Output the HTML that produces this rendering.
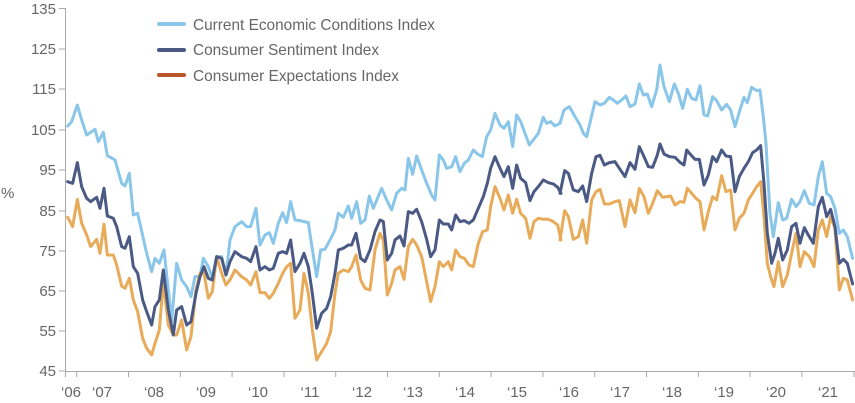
<!DOCTYPE html>
<html><head><meta charset="utf-8"><style>
html,body{margin:0;padding:0;background:#fff;}
svg{display:block;font-family:"Liberation Sans Narrow","Liberation Sans",sans-serif;}
</style></head><body>
<svg width="855" height="403" viewBox="0 0 855 403" xmlns="http://www.w3.org/2000/svg">
<g stroke="#aaa" stroke-width="1" fill="none">
<line x1="65.5" y1="8" x2="65.5" y2="371"/>
<line x1="65" y1="371.5" x2="855" y2="371.5"/>
<path d="M59 8.5H65M59 49H65M59 89H65M59 130H65M59 170H65M59 211H65M59 251H65M59 291H65M59 331H65M59 371H65"/>
<path d="M65.5 371V377M76.7 371V377M128.5 371V377M180.3 371V377M232.1 371V377M283.9 371V377M335.7 371V377M387.5 371V377M439.3 371V377M491.1 371V377M542.9 371V377M594.7 371V377M646.5 371V377M698.3 371V377M750.1 371V377M801.9 371V377M854 371V377"/>
</g>
<g fill="#666" font-size="15" text-anchor="end">
<text x="56" y="14">135</text><text x="56" y="54">125</text><text x="56" y="94">115</text><text x="56" y="135">105</text><text x="56" y="175">95</text><text x="56" y="216">85</text><text x="56" y="256">75</text><text x="56" y="296">65</text><text x="56" y="336">55</text><text x="56" y="376">45</text>
</g>
<text x="1" y="198" fill="#666" font-size="15">%</text>
<g fill="#666" font-size="15" text-anchor="middle">
<text x="71" y="397">‘06</text><text x="102" y="397">‘07</text><text x="154" y="397">‘08</text><text x="206" y="397">‘09</text><text x="258" y="397">‘10</text><text x="310" y="397">‘11</text><text x="362" y="397">‘12</text><text x="413" y="397">‘13</text><text x="465" y="397">‘14</text><text x="517" y="397">‘15</text><text x="569" y="397">‘16</text><text x="620" y="397">‘17</text><text x="672" y="397">‘18</text><text x="724" y="397">‘19</text><text x="776" y="397">‘20</text><text x="828" y="397">‘21</text>
</g>
<g stroke-width="4" stroke-linecap="round">
<line x1="159" y1="24" x2="184" y2="24" stroke="#8ac6ea"/>
<line x1="159" y1="50" x2="184" y2="50" stroke="#4a5a85"/>
<line x1="159" y1="75" x2="184" y2="75" stroke="#b8562a"/>
</g>
<g fill="#666" font-size="16">
<text x="193" y="30" textLength="242" lengthAdjust="spacingAndGlyphs">Current Economic Conditions Index</text>
<text x="193" y="55" textLength="186" lengthAdjust="spacingAndGlyphs">Consumer Sentiment Index</text>
<text x="193" y="81" textLength="206" lengthAdjust="spacingAndGlyphs">Consumer Expectations Index</text>
</g>
<g fill="none" stroke-width="9" stroke-linejoin="round" stroke-linecap="round">
<g stroke="#8ac6ea">
<polyline transform="scale(0.3333)" points="203,378 215,365 232,315 245,360 260,405 285,388 295,425 310,397 322,467 345,480 365,550 375,558 388,520 400,645 413,640 440,760 455,815 465,775 478,790 492,750 505,870 515,965 530,790 545,840 560,860 573,890 585,830 600,830 610,775 625,800 637,835 650,770 665,770 678,825 690,720 705,680 725,665 740,680 752,680 768,625 780,735 795,705 808,698 820,730 835,670 848,638 860,668 872,605 885,660 900,662"/>
<polyline transform="translate(280,0) scale(0.3333)" points="60,662 85,668 95,735 110,830 122,750 135,748 150,720 165,690 175,640 190,652 205,618 215,655 230,605 242,670 255,660 268,588 280,625 305,565 320,600 335,630 350,580 365,565 375,570 385,475 398,523 410,468 425,510 440,550 455,585 465,600 478,465 490,480 500,505 515,500 527,470 540,515 553,490 565,480 580,450 592,462 607,470 620,410 632,390 645,340 660,375 672,385 685,365 698,440 710,345 722,365 737,405 748,435 760,420 775,400 790,352 800,370 812,365 825,378 840,370"/>
<polyline transform="translate(560,0) scale(0.3333)" points="0,370 12,330 28,320 45,350 60,375 70,400 80,410 92,360 105,305 120,315 133,310 148,292 160,300 172,310 185,300 198,288 210,320 225,312 238,252 250,285 262,282 275,320 290,270 300,195 312,260 328,305 343,252 355,280 368,325 382,268 395,295 408,300 420,257 432,345 443,348 458,290 470,302 485,330 500,313 512,330 525,380 540,330 552,292 562,308 575,262 590,272 600,270 610,350 618,430 630,640 640,710 655,608 668,660 680,655 695,598 708,620 720,605 733,572 748,610 762,615 775,530 787,485 800,580 812,590 825,625 838,700 850,690 862,710 878,775"/>
</g>
<g stroke="#e8ab5a">
<polyline transform="scale(0.3333)" points="203,652 218,680 232,598 245,670 260,705 272,740 290,718 300,760 312,672 322,765 340,765 350,795 365,858 375,865 388,835 400,900 413,935 428,1015 440,1045 455,1065 465,1030 478,990 490,845 505,975 520,1005 530,1005 545,960 560,1050 573,1010 588,870 600,820 612,820 625,895 637,875 650,770 665,820 678,855 690,840 705,810 725,830 740,840 752,855 768,815 780,878 795,878 808,895 820,880 835,850 848,820 860,800 872,790 885,955 900,930"/>
<polyline transform="translate(280,0) scale(0.3333)" points="60,930 72,820 85,880 97,990 110,1080 125,1055 140,1030 152,995 165,880 175,820 190,810 205,815 215,800 228,765 242,840 255,865 270,870 285,750 300,700 310,720 322,885 335,850 345,810 360,800 372,838 385,740 398,718 410,735 425,770 440,845 452,905 465,860 478,785 490,800 505,785 515,810 527,750 540,770 553,775 567,795 580,800 595,730 608,695 622,690 632,620 645,560 660,595 672,630 685,585 698,640 710,598 722,640 737,655 750,715 762,665 775,655 790,658 805,658 820,665 833,675 843,720"/>
<polyline transform="translate(560,0) scale(0.3333)" points="0,720 14,632 25,650 40,718 55,710 68,660 80,730 95,600 108,575 120,568 133,612 148,612 165,605 178,602 195,680 210,600 225,638 238,565 252,590 265,640 278,610 292,572 308,592 320,590 332,588 345,615 360,605 372,607 382,565 395,580 408,595 420,605 432,690 445,635 458,590 470,600 485,527 498,575 512,570 525,690 538,655 552,640 565,600 578,580 590,560 602,545 612,650 622,790 632,830 642,860 655,785 668,860 682,825 695,760 708,700 720,800 733,755 748,770 762,800 775,690 787,660 800,710 812,650 825,685 838,870 850,835 862,840 878,900"/>
</g>
<g stroke="#4a5a85">
<polyline transform="scale(0.3333)" points="203,545 218,550 232,488 245,560 260,595 272,605 290,592 300,625 312,565 322,648 340,655 350,680 365,740 375,745 388,710 400,800 413,820 428,900 440,935 455,975 465,920 478,900 490,810 505,930 520,1005 530,930 545,920 560,975 573,965 588,880 600,830 612,800 625,835 637,840 650,770 665,775 678,825 690,785 705,755 725,770 740,775 752,785 768,740 780,810 795,800 808,810 820,805 835,760 848,755 860,760 872,720 885,815 900,790"/>
<polyline transform="translate(280,0) scale(0.3333)" points="60,790 72,760 85,800 97,880 110,985 125,940 140,925 152,890 165,820 175,750 190,745 205,735 215,735 228,700 242,775 255,785 270,750 285,695 300,660 310,665 322,780 335,760 345,720 360,708 372,738 385,635 398,640 410,628 425,665 440,718 452,770 465,750 478,660 490,672 505,672 515,690 527,645 540,665 553,662 567,670 580,660 595,625 610,590 622,550 632,505 645,470 660,505 672,530 685,500 698,565 710,495 722,535 737,548 750,602 762,575 775,560 790,540 805,548 820,552 833,562 843,580"/>
<polyline transform="translate(560,0) scale(0.3333)" points="0,580 14,512 25,520 40,570 55,575 68,558 80,605 95,520 108,470 120,466 133,495 148,488 165,485 178,505 195,530 210,488 225,508 238,440 252,470 265,500 278,502 292,465 300,432 312,462 328,470 345,472 360,487 372,495 380,450 393,465 405,478 418,478 432,555 445,525 458,470 470,485 485,450 498,468 512,470 525,575 538,530 552,505 565,485 578,458 590,450 602,437 612,550 622,700 635,790 645,760 655,715 668,780 682,750 695,680 708,670 720,730 733,683 745,705 760,730 775,620 787,592 800,650 812,628 825,680 838,790 850,778 862,790 878,852"/>
</g>
</g>
</svg>
</body></html>
